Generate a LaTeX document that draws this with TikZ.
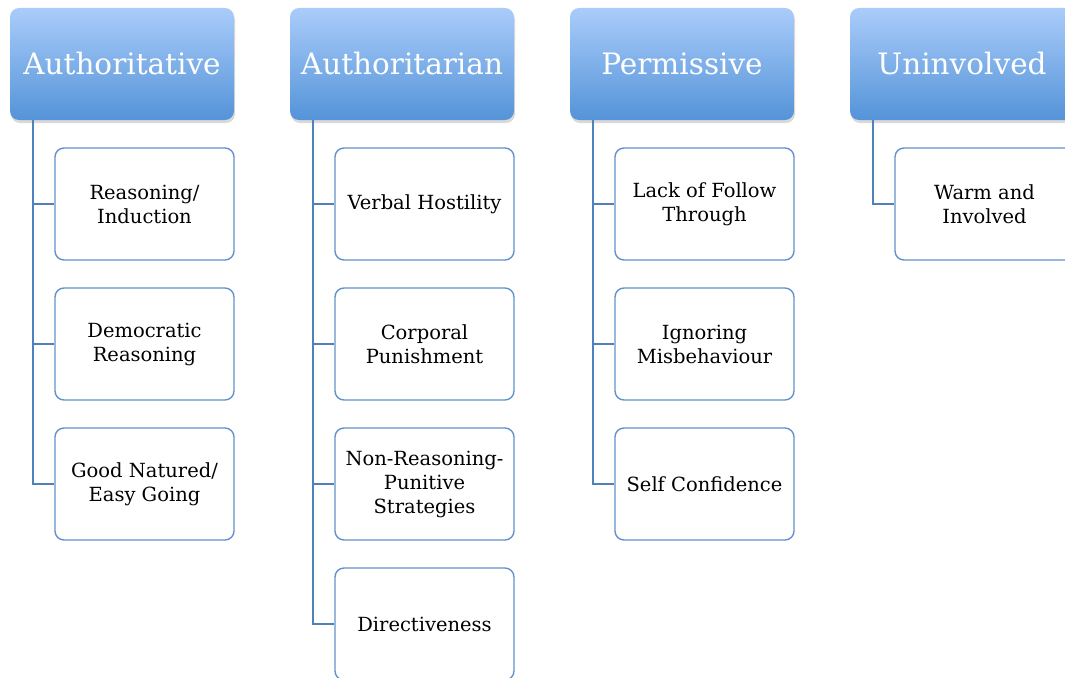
\documentclass[tikz,border=0pt]{standalone}
\usepackage{fontspec}
\setmainfont{DejaVu Serif}
\usetikzlibrary{shadows,positioning}

\definecolor{linkblue}{RGB}{79,129,189}
\definecolor{boxblue}{RGB}{98,146,204}
\definecolor{headtop}{RGB}{170,204,250}
\definecolor{headbot}{RGB}{84,148,216}

\tikzset{
  head/.style={rounded corners=9pt, top color=headtop, bottom color=headbot,
    minimum width=224pt, minimum height=112pt, text=white,
    font=\fontsize{29.5}{30}\selectfont,
    drop shadow={opacity=0.3, shadow xshift=1pt, shadow yshift=-3pt}},
  item/.style={rounded corners=9pt, draw=boxblue, line width=1.4pt, fill=white,
    minimum width=179pt, minimum height=112pt, align=center,
    font=\fontsize{19.5}{24}\selectfont},
  link/.style={draw=linkblue, line width=1.4pt}
}

\begin{document}
\begin{tikzpicture}[x=1pt,y=-1pt]
\useasboundingbox (0,0) rectangle (1065,677);
% column heads
\foreach \name/\lbl [count=\i from 0] in {auth/Authoritative,autr/Authoritarian,perm/Permissive,unin/Uninvolved}
  \node[head] (\name) at (122+280*\i,64) {\lbl};
% Authoritative
\foreach \txt [count=\j] in {{Reasoning/\\Induction},{Democratic\\Reasoning},{Good Natured/\\Easy Going}}{
  \node[item] (auth\j) at (144.5,64+140*\j) {\txt};
  \draw[link] ([xshift=23pt]auth.south west) |- (auth\j.west);
}
% Authoritarian
\foreach \txt [count=\j] in {{Verbal Hostility},{Corporal\\Punishment},{Non-Reasoning-\\Punitive\\Strategies},{Directiveness}}{
  \node[item] (autr\j) at (424.5,64+140*\j) {\txt};
  \draw[link] ([xshift=23pt]autr.south west) |- (autr\j.west);
}
% Permissive
\foreach \txt [count=\j] in {{Lack of Follow\\Through},{Ignoring\\Misbehaviour},{Self Confidence}}{
  \node[item] (perm\j) at (704.5,64+140*\j) {\txt};
  \draw[link] ([xshift=23pt]perm.south west) |- (perm\j.west);
}
% Uninvolved
\node[item] (unin1) at (984.5,204) {Warm and\\Involved};
\draw[link] ([xshift=23pt]unin.south west) |- (unin1.west);
\end{tikzpicture}
\end{document}
